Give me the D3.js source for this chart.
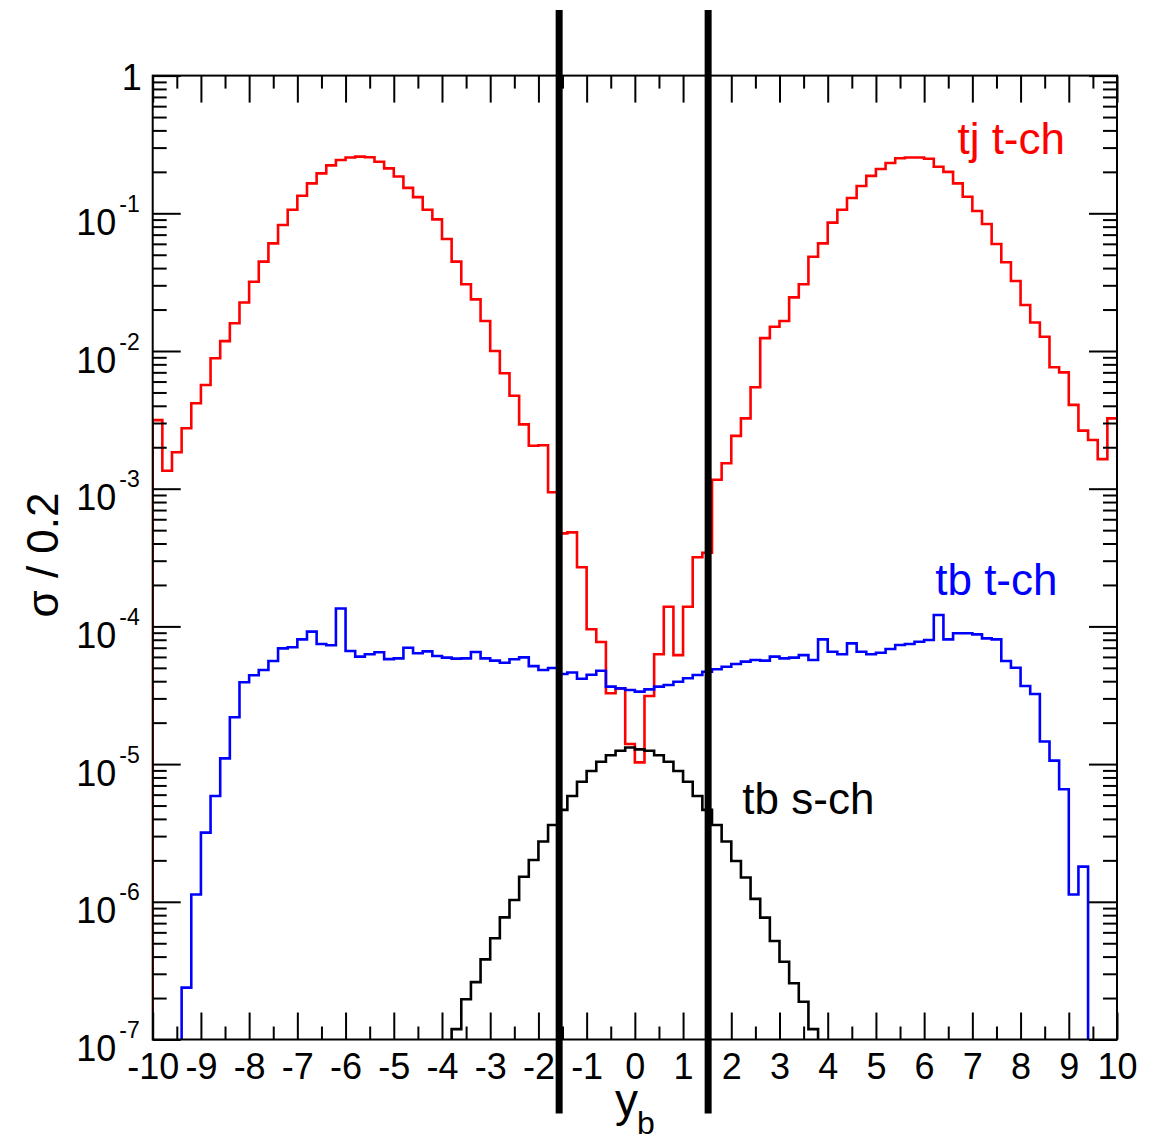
<!DOCTYPE html>
<head>
  <meta charset="utf-8">
  <script src="https://d3js.org/d3.v7.min.js"></script>
  <style>
    body { margin: 0; background: #fff; }
    * { font-family: "Liberation Sans", Arial, Helvetica, sans-serif; }
  </style>
</head>
<body>
  <div id="chart"></div>
  <script>
    // histogram settings: 100 bins of 0.2 from -10 to 10
    var xMin = -10, xMax = 10, binWidth = 0.2, nBins = 100;

    // tj t-channel, all 100 bins
    var tjT = [3.15e-3, 1.35e-3, 1.84e-3, 2.75e-3, 4.17e-3, 5.66e-3, 8.85e-3, 1.18e-2, 1.59e-2, 2.25e-2,
      3.18e-2, 4.46e-2, 6.05e-2, 8.22e-2, 0.106, 0.134, 0.165, 0.195, 0.223, 0.244,
      0.254, 0.258, 0.255, 0.237, 0.212, 0.185, 0.153, 0.131, 0.106, 9.04e-2,
      6.50e-2, 4.46e-2, 3.05e-2, 2.37e-2, 1.65e-2, 1.00e-2, 6.89e-3, 4.73e-3, 2.93e-3, 2.05e-3,
      2.07e-3, 9.42e-4, 4.74e-4, 4.82e-4, 2.69e-4, 9.53e-5, 7.71e-5, 3.27e-5, 3.55e-5, 1.40e-5,
      1.03e-5, 3.12e-5, 6.27e-5, 1.39e-4, 6.19e-5, 1.39e-4, 3.18e-4, 3.43e-4, 1.16e-3, 1.53e-3,
      2.42e-3, 3.24e-3, 5.45e-3, 1.24e-2, 1.50e-2, 1.65e-2, 2.45e-2, 3.05e-2, 4.84e-2, 6.05e-2,
      8.55e-2, 0.106, 0.129, 0.158, 0.187, 0.210, 0.232, 0.251, 0.254, 0.254,
      0.249, 0.218, 0.200, 0.165, 0.132, 0.104, 8.36e-2, 5.98e-2, 4.41e-2, 3.22e-2,
      2.16e-2, 1.61e-2, 1.27e-2, 7.62e-3, 7.00e-3, 4.06e-3, 2.64e-3, 2.26e-3, 1.64e-3, 3.24e-3];

    // tb t-channel, bins 3..96 (others empty)
    var tbTFirst = 3;
    var tbT = [2.38e-7, 1.13e-6, 3.18e-6, 5.86e-6, 1.10e-5, 2.19e-5, 3.93e-5,
      4.42e-5, 4.82e-5, 5.61e-5, 6.93e-5, 7.05e-5, 8.05e-5, 9.16e-5, 7.45e-5, 7.29e-5, 1.35e-4,
      6.62e-5, 6.03e-5, 6.27e-5, 6.49e-5, 5.79e-5, 5.86e-5, 7.00e-5, 6.38e-5, 6.59e-5, 6.10e-5,
      5.93e-5, 5.83e-5, 5.86e-5, 6.52e-5, 5.86e-5, 5.64e-5, 5.45e-5, 5.77e-5, 5.96e-5, 5.15e-5,
      4.82e-5, 4.99e-5, 4.51e-5, 4.63e-5, 4.17e-5, 4.46e-5, 4.76e-5, 3.65e-5, 3.55e-5, 3.45e-5,
      3.36e-5, 3.49e-5, 3.65e-5, 3.75e-5, 3.96e-5, 4.20e-5, 4.44e-5, 4.69e-5, 4.88e-5, 5.09e-5,
      5.33e-5, 5.55e-5, 5.70e-5, 5.64e-5, 6.03e-5, 5.86e-5, 5.93e-5, 6.19e-5, 5.70e-5, 8.05e-5,
      6.55e-5, 6.27e-5, 7.53e-5, 6.55e-5, 6.27e-5, 6.44e-5, 6.85e-5, 7.33e-5, 7.45e-5, 7.74e-5,
      7.96e-5, 1.21e-4, 8.05e-5, 8.91e-5, 8.91e-5, 8.75e-5, 8.18e-5, 8.05e-5, 5.61e-5, 5.01e-5,
      3.69e-5, 3.23e-5, 1.46e-5, 1.06e-5, 6.56e-6, 1.13e-6, 1.80e-6];

    // tb s-channel, bins 31..68 (others empty)
    var tbSFirst = 31;
    var tbS = [1.19e-7, 1.96e-7, 2.61e-7, 3.82e-7, 5.43e-7, 7.71e-7, 1.03e-6, 1.52e-6, 2.01e-6, 2.74e-6,
      3.61e-6, 4.65e-6, 5.86e-6, 7.45e-6, 8.91e-6, 1.04e-5, 1.16e-5, 1.25e-5, 1.32e-5, 1.28e-5,
      1.25e-5, 1.16e-5, 1.04e-5, 8.91e-6, 7.45e-6, 5.86e-6, 4.65e-6, 3.61e-6, 2.74e-6, 1.98e-6,
      1.50e-6, 1.05e-6, 7.67e-7, 5.19e-7, 3.67e-7, 2.56e-7, 1.88e-7, 1.19e-7];

    // cut lines on y_b and their vertical extent (in sigma units, beyond the frame)
    var cuts = [-1.57, 1.52];
    var cutRange = [2.9e-8, 3.0];

    var xTicks = d3.range(-10, 11, 1);
    var xMinorTicks = d3.range(-9.5, 10, 1);
    var yDecades = [1e-7, 1e-6, 1e-5, 1e-4, 1e-3, 1e-2, 1e-1, 1];
    var yExponents = ["-7", "-6", "-5", "-4", "-3", "-2", "-1", "0"];

    var labels = [
      {text: "tj t-ch", x: 6.69, y: 0.27, color: "#ff0000"},
      {text: "tb t-ch", x: 6.23, y: 1.69e-4, color: "#0000ff"},
      {text: "tb s-ch", x: 2.23, y: 4.35e-6, color: "#000000"}
    ];

    var width = 1164;
    var height = 1141;
    var margin = {top: 75.6, right: 47, bottom: 101.5, left: 152.7};
    var font = "Liberation Sans, Arial, Helvetica, sans-serif";

    var x = d3.scaleLinear().domain([xMin, xMax]).range([margin.left, width - margin.right]);
    var y = d3.scaleLog().domain([1e-7, 1]).range([height - margin.bottom, margin.top]);

    var svg = d3.select("#chart").append("svg")
      .attr("width", width)
      .attr("height", height);

    svg.append("clipPath").attr("id", "plot-clip")
      .append("rect")
      .attr("x", x(xMin)).attr("y", y(1))
      .attr("width", x(xMax) - x(xMin))
      .attr("height", y(1e-7) - y(1));

    // HISTOGRAMS
    function stepPoints(values, first) {
      var pts = [];
      var lo = xMin + first * binWidth;
      pts.push([lo, 1e-7]);
      values.forEach(function(v, i) {
        pts.push([xMin + (first + i) * binWidth, v]);
      });
      var hi = xMin + (first + values.length) * binWidth;
      pts.push([hi, values[values.length - 1]]);
      if (first + values.length < nBins) pts.push([hi, 1e-7]);
      return pts;
    }

    var line = d3.line()
      .x(function(d) { return x(d[0]); })
      .y(function(d) { return y(d[1]); })
      .curve(d3.curveStepAfter);

    var series = [
      {values: tjT, first: 0, color: "#ff0000"},
      {values: tbT, first: tbTFirst, color: "#0000ff"},
      {values: tbS, first: tbSFirst, color: "#000000"}
    ];

    svg.append("g").attr("clip-path", "url(#plot-clip)")
      .selectAll("path")
      .data(series)
      .enter().append("path")
      .attr("d", function(d) { return line(stepPoints(d.values, d.first)); })
      .attr("fill", "none")
      .attr("stroke", function(d) { return d.color; })
      .attr("stroke-width", 2.6)
      .attr("stroke-linejoin", "miter");

    // AXES
    var yMinor = [];
    yDecades.slice(0, -1).forEach(function(dec) {
      for (var m = 2; m <= 9; m++) yMinor.push(m * dec);
    });

    function styleAxis(g) {
      g.select(".domain").remove();
      g.selectAll(".tick line").attr("stroke", "#000").attr("stroke-width", 2);
    }

    var bottom = height - margin.bottom;
    svg.append("g").attr("transform", "translate(0," + bottom + ")")
      .call(d3.axisBottom(x).tickValues(xMinorTicks).tickSize(-13).tickSizeOuter(0).tickFormat(""))
      .call(styleAxis);
    svg.append("g").attr("transform", "translate(0," + bottom + ")")
      .call(d3.axisBottom(x).tickValues(xTicks).tickSize(-27).tickSizeOuter(0).tickPadding(14)
        .tickFormat(function(d) { return d; }))
      .call(styleAxis)
      .selectAll(".tick text")
      .attr("fill", "#000")
      .attr("font-size", 36)
      .attr("font-family", font);

    svg.append("g").attr("transform", "translate(0," + margin.top + ")")
      .call(d3.axisTop(x).tickValues(xMinorTicks).tickSize(-13).tickSizeOuter(0).tickFormat(""))
      .call(styleAxis);
    svg.append("g").attr("transform", "translate(0," + margin.top + ")")
      .call(d3.axisTop(x).tickValues(xTicks).tickSize(-27).tickSizeOuter(0).tickFormat(""))
      .call(styleAxis);

    svg.append("g").attr("transform", "translate(" + margin.left + ",0)")
      .call(d3.axisLeft(y).tickValues(yMinor).tickSize(-14).tickSizeOuter(0).tickFormat(""))
      .call(styleAxis);
    var leftMajor = svg.append("g").attr("transform", "translate(" + margin.left + ",0)")
      .call(d3.axisLeft(y).tickValues(yDecades).tickSize(-28).tickSizeOuter(0).tickFormat(""))
      .call(styleAxis);

    var right = width - margin.right;
    svg.append("g").attr("transform", "translate(" + right + ",0)")
      .call(d3.axisRight(y).tickValues(yMinor).tickSize(-14).tickSizeOuter(0).tickFormat(""))
      .call(styleAxis);
    svg.append("g").attr("transform", "translate(" + right + ",0)")
      .call(d3.axisRight(y).tickValues(yDecades).tickSize(-28).tickSizeOuter(0).tickFormat(""))
      .call(styleAxis);

    // log labels 10^n
    leftMajor.selectAll(".tick").each(function(d, i) {
      var t = d3.select(this).select("text");
      t.attr("dy", null).attr("y", 0).attr("fill", "#000").attr("text-anchor", "end")
        .attr("font-family", font);
      if (d === 1) {
        t.attr("x", -11).attr("font-size", 36).attr("dy", 14).text("1");
      } else {
        t.attr("x", -13);
        t.append("tspan").attr("font-size", 36).attr("dy", 21).text("10");
        t.append("tspan").attr("font-size", 23).attr("dx", 3).attr("dy", -23).text(yExponents[i]);
      }
    });

    // FRAME
    svg.append("rect")
      .attr("x", x(xMin)).attr("y", y(1))
      .attr("width", x(xMax) - x(xMin))
      .attr("height", y(1e-7) - y(1))
      .attr("fill", "none")
      .attr("stroke", "#000")
      .attr("stroke-width", 2);

    // CUT LINES
    svg.selectAll(".cut")
      .data(cuts)
      .enter().append("line")
      .attr("class", "cut")
      .attr("x1", function(d) { return x(d); })
      .attr("x2", function(d) { return x(d); })
      .attr("y1", y(cutRange[1]))
      .attr("y2", y(cutRange[0]))
      .attr("stroke", "#000")
      .attr("stroke-width", 7);

    // SERIES LABELS
    svg.selectAll(".series-label")
      .data(labels)
      .enter().append("text")
      .attr("class", "series-label")
      .attr("x", function(d) { return x(d.x); })
      .attr("y", function(d) { return y(d.y); })
      .attr("font-size", 44)
      .attr("fill", function(d) { return d.color; })
      .text(function(d) { return d.text; });

    // AXIS TITLES
    svg.append("text")
      .attr("transform", "translate(58,555) rotate(-90)")
      .attr("text-anchor", "middle")
      .attr("font-size", 44)
      .text("σ / 0.2");

    var xt = svg.append("text")
      .attr("x", 615)
      .attr("y", 1116);
    xt.append("tspan").attr("font-size", 46).text("y");
    xt.append("tspan").attr("font-size", 32).attr("dx", -1).attr("dy", 18).text("b");
  </script>
</body>
